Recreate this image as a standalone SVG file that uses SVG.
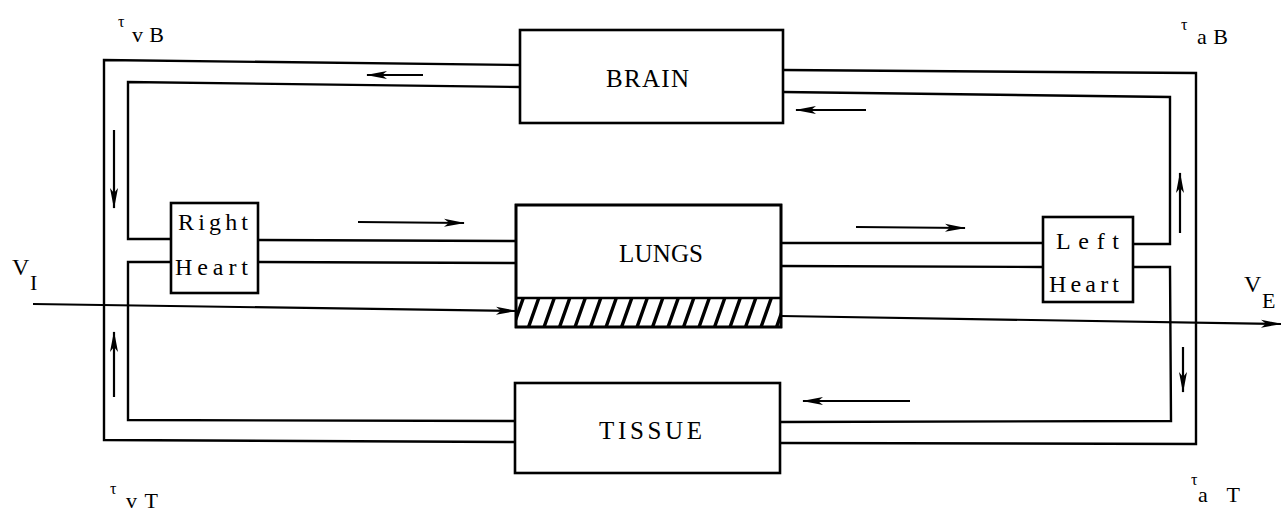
<svg xmlns="http://www.w3.org/2000/svg" width="1281" height="512" viewBox="0 0 1281 512">
<defs>
<style>
.ln{fill:none;stroke:#000;stroke-width:2.4;stroke-linejoin:miter}
.ar{fill:none;stroke:#000;stroke-width:2.2;marker-end:url(#ah)}
.bx{fill:#fff;stroke:#000;stroke-width:2.6}
.t{font-family:"Liberation Serif","DejaVu Serif",serif;fill:#000}
.h{stroke:#000;stroke-width:3.4}
</style>
<marker id="ah" markerUnits="userSpaceOnUse" markerWidth="22" markerHeight="10" refX="20" refY="5" orient="auto">
<path d="M0,1 L21,5 L0,9 L5,5 Z" fill="#000"/>
</marker>
<clipPath id="hc"><rect x="516" y="298" width="265" height="29"/></clipPath>
</defs>
<rect width="1281" height="512" fill="#fff"/>
<g id="connectors">
<path class="ln" d="M520,65 L104,60 L104,440 L515,442"/>
<path class="ln" d="M520,87 L128,82 L128,239 L171,239"/>
<path class="ln" d="M171,262 L128,262 L128,420 L515,421"/>
<path class="ln" d="M258,240 L516,241 M258,262 L516,263"/>
<path class="ln" d="M781,243 L1043,243 M781,266 L1043,267"/>
<path class="ln" d="M783,70 L1196,73 L1196,444 L780,443"/>
<path class="ln" d="M783,92 L1170,97 L1170,244 L1134,244"/>
<path class="ln" d="M1134,267 L1170,267 L1171,421 L780,422"/>
<path class="ar" d="M33,304 L516,311"/>
<path class="ar" d="M781,316 L1281,324"/>
<path class="ar" d="M423,75 L367,75"/>
<path class="ar" d="M866,110 L796,110"/>
<path class="ar" d="M114,130 L114,208"/>
<path class="ar" d="M114,397 L114,332"/>
<path class="ar" d="M1180,233 L1180,173"/>
<path class="ar" d="M1183,347 L1183,392"/>
<path class="ar" d="M358,222 L464,223"/>
<path class="ar" d="M856,227 L965,228"/>
<path class="ar" d="M910,401 L803,401"/>
</g>
<g id="brain">
<rect class="bx" x="520" y="30" width="263" height="93"/>
<text class="t" x="606" y="87" font-size="25" textLength="83" lengthAdjust="spacing">BRAIN</text>
</g>
<g id="lungs">
<rect class="bx" x="516" y="205" width="265" height="122"/>
<line class="ln" x1="516" y1="298" x2="781" y2="298"/>
<g clip-path="url(#hc)">
<path class="h" d="M512,330 L524,296 M527.5,330 L539.5,296 M543,330 L555,296 M558.5,330 L570.5,296 M574,330 L586,296 M589.5,330 L601.5,296 M605,330 L617,296 M620.5,330 L632.5,296 M636,330 L648,296 M651.5,330 L663.5,296 M667,330 L679,296 M682.5,330 L694.5,296 M698,330 L710,296 M713.5,330 L725.5,296 M729,330 L741,296 M744.5,330 L756.5,296 M760,330 L772,296 M775.5,330 L787.5,296"/>
</g>
<rect x="516" y="205" width="265" height="122" fill="none" stroke="#000" stroke-width="2.6"/>
<text class="t" x="619" y="262" font-size="25" textLength="84" lengthAdjust="spacing">LUNGS</text>
</g>
<g id="tissue">
<rect class="bx" x="515" y="383" width="265" height="90"/>
<text class="t" x="599" y="439" font-size="25" textLength="103" lengthAdjust="spacing">TISSUE</text>
</g>
<g id="right-heart">
<rect class="bx" x="171" y="203" width="87" height="90"/>
<text class="t" x="178" y="230" font-size="24" textLength="70" lengthAdjust="spacing">Right</text>
<text class="t" x="175" y="275" font-size="24" textLength="73" lengthAdjust="spacing">Heart</text>
</g>
<g id="left-heart">
<rect class="bx" x="1043" y="217" width="90" height="85"/>
<text class="t" x="1056" y="249" font-size="24" textLength="63" lengthAdjust="spacing">Left</text>
<text class="t" x="1049" y="292" font-size="24" textLength="70" lengthAdjust="spacing">Heart</text>
</g>
<g id="labels">
<text class="t" x="118" y="27" font-size="16">τ</text>
<text class="t" x="132" y="42" font-size="22" textLength="32" lengthAdjust="spacing">vB</text>
<text class="t" x="1181" y="30" font-size="16">τ</text>
<text class="t" x="1197" y="44" font-size="22" textLength="31" lengthAdjust="spacing">aB</text>
<text class="t" x="110" y="494" font-size="16">τ</text>
<text class="t" x="126" y="508" font-size="22" textLength="32" lengthAdjust="spacing">vT</text>
<text class="t" x="1191" y="485" font-size="16">τ</text>
<text class="t" x="1198" y="502" font-size="22" textLength="42" lengthAdjust="spacing">aT</text>
<text class="t" x="12" y="275" font-size="24">V</text>
<text class="t" x="30" y="290" font-size="22">I</text>
<text class="t" x="1244" y="292" font-size="24">V</text>
<text class="t" x="1262" y="308" font-size="22">E</text>
</g>
</svg>
